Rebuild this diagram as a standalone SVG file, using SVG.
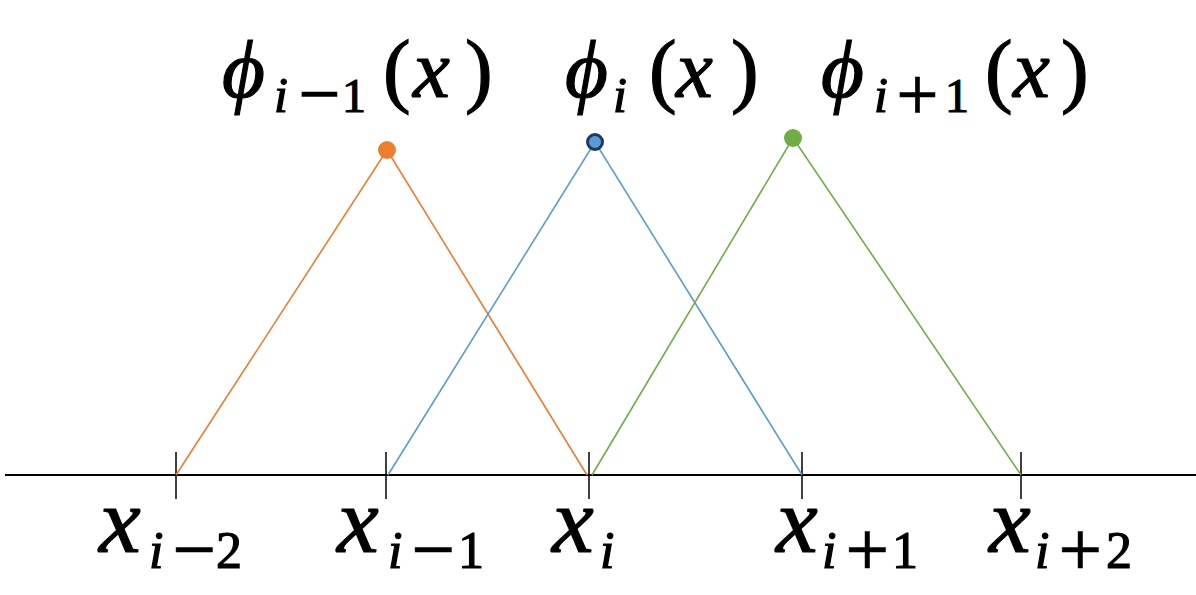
<svg xmlns="http://www.w3.org/2000/svg" width="1196" height="595" viewBox="0 0 1196 595">
<style>
.axis{stroke:#000;stroke-width:2;fill:none}
.tick{stroke:#000;stroke-width:1.5}
.f{fill:none;stroke-width:1.6}
</style>
<rect width="1196" height="595" fill="#fff"/>
<g id="connectors">
<line class="axis" x1="5" y1="475" x2="1196" y2="475"/>
<g id="ticks">
<line class="tick" x1="176" y1="452" x2="176" y2="499"/>
<line class="tick" x1="386" y1="452" x2="386" y2="499"/>
<line class="tick" x1="589" y1="452" x2="589" y2="499"/>
<line class="tick" x1="802" y1="452" x2="802" y2="499"/>
<line class="tick" x1="1021" y1="452" x2="1021" y2="499"/>
</g>
<polyline class="f" stroke="#ED7D31" points="176,475 387,150 587,475"/>
<polyline class="f" stroke="#5B9BD5" points="388,475 595,142 802,475"/>
<polyline class="f" stroke="#70AD47" points="592,475 793,138 1021,475"/>
</g>
<g id="phi_im1" fill="#000" stroke="#000" stroke-width="1.2">
<circle cx="387" cy="150" r="9" fill="#ED7D31" stroke="none"/>
<text x="222" y="97" font-family="Liberation Serif" font-style="italic" font-size="83">ϕ</text>
<text x="274" y="112" font-family="Liberation Serif" font-style="italic" font-size="50">i</text>
<text x="296" y="112" font-family="DejaVu Serif" font-size="56" stroke-width="0.5">−</text>
<text x="342" y="112" font-family="Liberation Serif" font-size="48">1</text>
<text x="383" y="97" font-family="Liberation Serif" font-size="83">(</text>
<text x="413" y="97" font-family="Liberation Serif" font-style="italic" font-size="83">x</text>
<text x="465" y="97" font-family="Liberation Serif" font-size="83">)</text>
</g>
<g id="phi_i" fill="#000" stroke="#000" stroke-width="1.2">
<circle cx="595" cy="142" r="7.5" fill="#5B9BD5" stroke="#1F3864" stroke-width="3"/>
<text x="565" y="97" font-family="Liberation Serif" font-style="italic" font-size="83">ϕ</text>
<text x="613" y="112" font-family="Liberation Serif" font-style="italic" font-size="50">i</text>
<text x="649" y="97" font-family="Liberation Serif" font-size="83">(</text>
<text x="676" y="97" font-family="Liberation Serif" font-style="italic" font-size="83">x</text>
<text x="731" y="97" font-family="Liberation Serif" font-size="83">)</text>
</g>
<g id="phi_ip1" fill="#000" stroke="#000" stroke-width="1.2">
<circle cx="793" cy="138" r="9" fill="#70AD47" stroke="none"/>
<text x="821" y="97" font-family="Liberation Serif" font-style="italic" font-size="83">ϕ</text>
<text x="874" y="112" font-family="Liberation Serif" font-style="italic" font-size="50">i</text>
<text x="894" y="112" font-family="DejaVu Serif" font-size="56" stroke-width="0.5">+</text>
<text x="945" y="112" font-family="Liberation Serif" font-size="48">1</text>
<text x="985" y="97" font-family="Liberation Serif" font-size="83">(</text>
<text x="1013" y="97" font-family="Liberation Serif" font-style="italic" font-size="83">x</text>
<text x="1061" y="97" font-family="Liberation Serif" font-size="83">)</text>
</g>
<g id="x_im2" fill="#000" stroke="#000" stroke-width="1.2">
<text x="99" y="552" font-family="Liberation Serif" font-style="italic" font-size="94">x</text>
<text x="149" y="568" font-family="Liberation Serif" font-style="italic" font-size="52">i</text>
<text x="170" y="568" font-family="DejaVu Serif" font-size="58" stroke-width="0.5">−</text>
<text x="216" y="568" font-family="Liberation Serif" font-size="52">2</text>
</g>
<g id="x_im1" fill="#000" stroke="#000" stroke-width="1.2">
<text x="337" y="552" font-family="Liberation Serif" font-style="italic" font-size="94">x</text>
<text x="388" y="568" font-family="Liberation Serif" font-style="italic" font-size="52">i</text>
<text x="409" y="568" font-family="DejaVu Serif" font-size="58" stroke-width="0.5">−</text>
<text x="458" y="568" font-family="Liberation Serif" font-size="52">1</text>
</g>
<g id="x_i" fill="#000" stroke="#000" stroke-width="1.2">
<text x="552" y="552" font-family="Liberation Serif" font-style="italic" font-size="94">x</text>
<text x="600" y="568" font-family="Liberation Serif" font-style="italic" font-size="52">i</text>
</g>
<g id="x_ip1" fill="#000" stroke="#000" stroke-width="1.2">
<text x="776" y="552" font-family="Liberation Serif" font-style="italic" font-size="94">x</text>
<text x="822" y="568" font-family="Liberation Serif" font-style="italic" font-size="52">i</text>
<text x="843" y="568" font-family="DejaVu Serif" font-size="58" stroke-width="0.5">+</text>
<text x="892" y="568" font-family="Liberation Serif" font-size="52">1</text>
</g>
<g id="x_ip2" fill="#000" stroke="#000" stroke-width="1.2">
<text x="989" y="552" font-family="Liberation Serif" font-style="italic" font-size="94">x</text>
<text x="1035" y="568" font-family="Liberation Serif" font-style="italic" font-size="52">i</text>
<text x="1056" y="568" font-family="DejaVu Serif" font-size="58" stroke-width="0.5">+</text>
<text x="1106" y="568" font-family="Liberation Serif" font-size="52">2</text>
</g>
</svg>
